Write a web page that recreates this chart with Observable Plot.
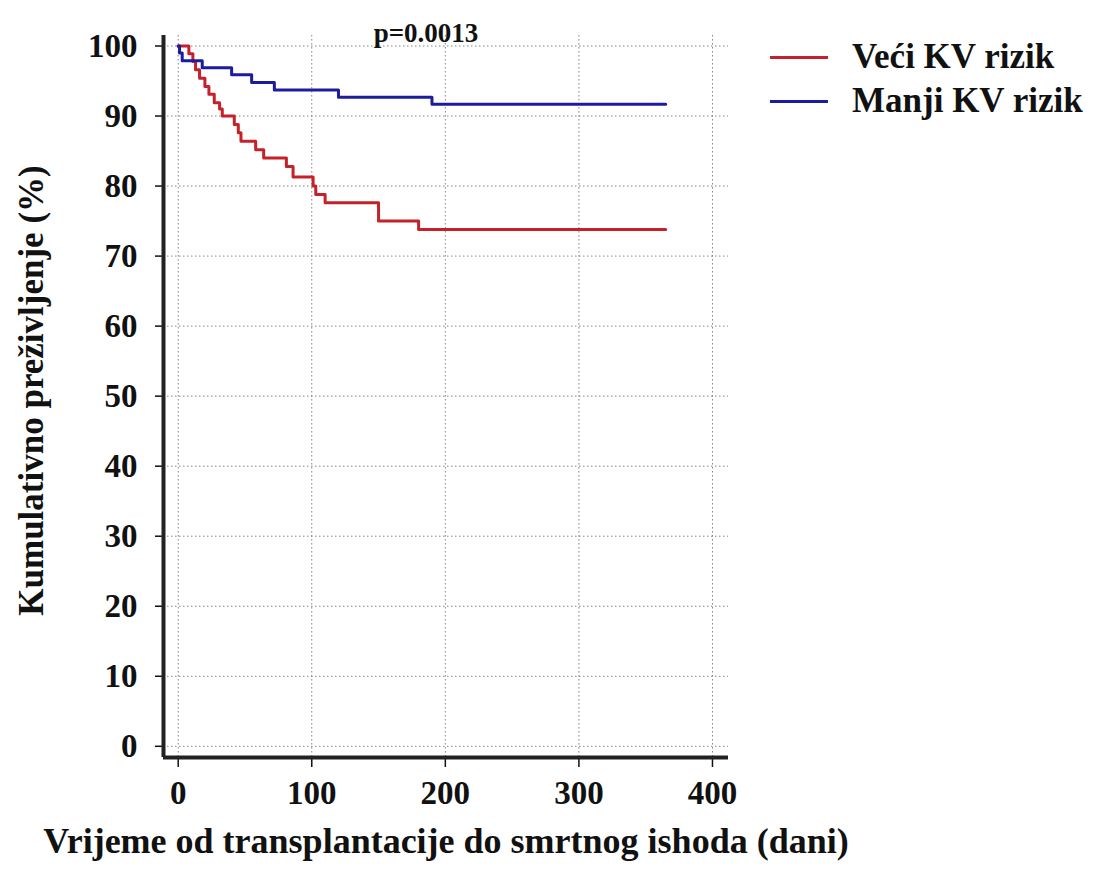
<!DOCTYPE html>
<html>
<head>
<meta charset="utf-8">
<script src="https://cdn.jsdelivr.net/npm/d3@7"></script>
<script src="https://cdn.jsdelivr.net/npm/@observablehq/plot@0.6"></script>
<style>
  body { margin: 0; background: #fff; }
  #wrap { position: relative; width: 1100px; height: 870px; }
  .legend { position: absolute; left: 770px; top: 35px; font-family: "Liberation Serif", "Times New Roman", serif; font-weight: bold; font-size: 35px; color: #111; }
  .legend div { display: flex; align-items: center; height: 44px; }
  .legend span.sw { display: inline-block; width: 58px; height: 3px; margin-right: 24px; }
</style>
</head>
<body>
<div id="wrap">
  <div id="chart"></div>
  <div class="legend" id="legend"></div>
</div>
<script>
// Series names and colours
const seriesNames = ["Veći KV rizik", "Manji KV rizik"];
const seriesColors = ["#c4212b", "#1c1ca0"];

// Kaplan–Meier step data: days and cumulative survival (%)
const redDays = [0, 8, 11, 13, 16, 20, 23, 27, 31, 33, 42, 45, 47, 58, 64, 81, 86, 101, 103, 110, 150, 180, 365];
const redSurv = [100, 98.9, 97.8, 96.6, 95.4, 94.2, 93.1, 91.9, 91.0, 90.0, 88.8, 87.6, 86.4, 85.2, 84.0, 82.8, 81.3, 80.0, 78.8, 77.6, 75.0, 73.8, 73.8];
const blueDays = [0, 1, 3, 18, 40, 55, 72, 120, 190, 365];
const blueSurv = [100, 99.0, 97.9, 96.9, 95.9, 94.8, 93.7, 92.7, 91.7, 91.7];

// Axes
const xTicks = [0, 100, 200, 300, 400];
const yTicks = [0, 10, 20, 30, 40, 50, 60, 70, 80, 90, 100];
const xDomain = [-11, 412];
const yDomain = [-1.6, 101.5];
const xTitle = "Vrijeme od transplantacije do smrtnog ishoda (dani)";
const yTitle = "Kumulativno preživljenje (%)";
const pText = "p=0.0013";

const data = [
  ...redDays.map((t, i) => ({t, s: redSurv[i], g: seriesNames[0]})),
  ...blueDays.map((t, i) => ({t, s: blueSurv[i], g: seriesNames[1]}))
];

const font = "'Liberation Serif', 'Times New Roman', serif";

const chart = Plot.plot({
  width: 1100,
  height: 870,
  marginLeft: 163,
  marginRight: 372,
  marginTop: 35,
  marginBottom: 113,
  style: {fontFamily: font, fontWeight: "bold", color: "#111", background: "#fff"},
  x: {domain: xDomain},
  y: {domain: yDomain},
  color: {domain: seriesNames, range: seriesColors},
  marks: [
    Plot.gridX(xTicks, {stroke: "#777", strokeOpacity: 0.9, strokeDasharray: "1.5,2.5"}),
    Plot.gridY(yTicks, {stroke: "#777", strokeOpacity: 0.9, strokeDasharray: "1.5,2.5"}),
    Plot.axisX(xTicks, {tickSize: 10, tickPadding: 13, fontSize: 33, fontWeight: "bold", label: null, strokeWidth: 1.5}),
    Plot.axisY(yTicks, {tickSize: 8, tickPadding: 18, fontSize: 33, fontWeight: "bold", label: null, strokeWidth: 1.5}),
    Plot.ruleX([xDomain[0]], {stroke: "#222", strokeWidth: 4}),
    Plot.ruleY([yDomain[0]], {stroke: "#222", strokeWidth: 4}),
    Plot.line(data, {x: "t", y: "s", z: "g", stroke: "g", curve: "step-after", strokeWidth: 3}),
    Plot.text([pText], {frameAnchor: "top", dx: -20, dy: -13, fontSize: 27, fontWeight: "bold", fill: "#111"}),
    Plot.text([yTitle], {frameAnchor: "left", textAnchor: "middle", rotate: -90, dx: -132, dy: -6, fontSize: 35, fontWeight: "bold", fill: "#111"}),
    Plot.text([xTitle], {frameAnchor: "bottom", dy: 95, fontSize: 36, fontWeight: "bold", fill: "#111"})
  ]
});
document.getElementById("chart").appendChild(chart);

const legend = document.getElementById("legend");
seriesNames.forEach((n, i) => {
  const row = document.createElement("div");
  row.innerHTML = `<span class="sw" style="background:${seriesColors[i]}"></span>${n}`;
  legend.appendChild(row);
});
</script>
</body>
</html>
